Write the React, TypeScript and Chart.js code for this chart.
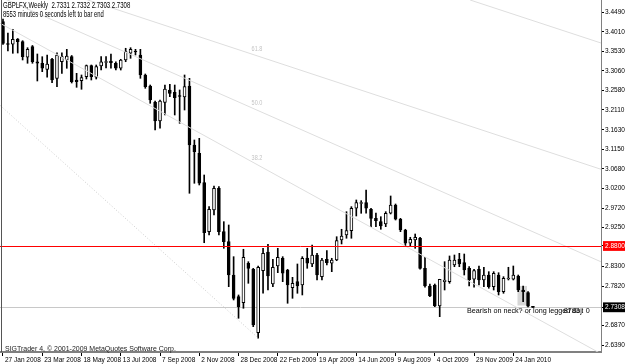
import React, { useEffect, useRef } from 'react';
import { Chart, registerables } from 'chart.js';

Chart.register(...registerables);

const FONT = "'Liberation Sans', Arial, sans-serif";

const symbolTitle = 'GBPLFX,Weekly';
const timerText = '8553 minutes 0 seconds left to bar end';
const copyrightText = 'SIGTrader 4, \u00A9 2001-2009 MetaQuotes Software Corp.';

// Weekly candles, 27 Jan 2008 .. 14 Feb 2010 (+ current bar)
const openP = [
  3.4259, 3.3728, 3.3709, 3.3838, 3.3772, 3.3393, 3.3651, 3.3285, 3.3247, 3.3100,
  3.3344, 3.2881, 3.3285, 3.3327, 3.3407, 3.2840, 3.2823, 3.2920, 3.3188, 3.2906,
  3.3181, 3.3266, 3.3302, 3.3247, 3.3125, 3.3327, 3.3490, 3.3546, 3.3449, 3.2962,
  3.2694, 3.2297, 3.1842, 3.2297, 3.2597, 3.2541, 3.2463, 3.2426, 3.2694, 3.1258,
  3.1056, 3.0341, 2.9148, 2.9676, 3.0204, 2.9148, 2.8905, 2.8094, 2.7566, 2.7420,
  2.8379, 2.8233, 2.6690, 2.8199, 2.8654, 2.7875, 2.8313, 2.8501, 2.8216, 2.7785,
  2.7931, 2.7851, 2.8508, 2.8362, 2.8581, 2.8053, 2.8476, 2.8379, 2.8459, 2.8946,
  2.9068, 2.9173, 2.9718, 2.9834, 2.9854, 2.9693, 2.9474, 2.9392, 2.9336, 2.9596,
  2.9798, 2.9450, 2.9190, 2.8866, 2.8946, 2.8988, 2.8257, 2.7827, 2.7851, 2.7340,
  2.7931, 2.7931, 2.8338, 2.8476, 2.8394, 2.8257, 2.7990, 2.8233, 2.7973, 2.8094,
  2.7810, 2.8094, 2.7688, 2.7997, 2.7990, 2.8070, 2.7729, 2.7664, 2.7331,
];
const highP = [
  3.4325, 3.3984, 3.4074, 3.3850, 3.3797, 3.3626, 3.3680, 3.3473, 3.3407, 3.3449,
  3.3368, 3.3504, 3.3504, 3.3587, 3.3436, 3.3003, 3.2962, 3.3205, 3.3205, 3.3205,
  3.3407, 3.3407, 3.3473, 3.3285, 3.3344, 3.3612, 3.3626, 3.3587, 3.3587, 3.2986,
  3.2718, 3.2329, 3.2353, 3.2718, 3.2735, 3.2718, 3.2597, 3.2962, 3.2881, 3.1380,
  3.1421, 3.0528, 2.9757, 3.0260, 3.0243, 2.9392, 2.9311, 2.8540, 2.7608, 2.8720,
  2.8418, 2.8257, 2.8313, 2.8744, 2.8841, 2.8476, 2.8744, 2.8540, 2.8233, 2.8038,
  2.8362, 2.8540, 2.8744, 2.8824, 2.8622, 2.8501, 2.8686, 2.8501, 2.9026, 2.9207,
  2.9635, 2.9757, 2.9920, 2.9903, 3.0163, 2.9718, 2.9603, 2.9513, 2.9635, 3.0017,
  2.9822, 2.9474, 2.9207, 2.9012, 2.9092, 2.9012, 2.8525, 2.7875, 2.7875, 2.7990,
  2.8418, 2.8557, 2.8581, 2.8622, 2.8605, 2.8296, 2.8233, 2.8313, 2.8282, 2.8175,
  2.8175, 2.8150, 2.8053, 2.8282, 2.8313, 2.8094, 2.7827, 2.7688, 2.7332,
];
const lowP = [
  3.3704, 3.3546, 3.3490, 3.3497, 3.3327, 3.3247, 3.3247, 3.2816, 3.3042, 3.2906,
  3.2774, 3.2677, 3.3003, 3.3125, 3.2767, 3.2662, 3.2614, 3.2864, 3.2840, 3.2864,
  3.3083, 3.3132, 3.3125, 3.3083, 3.3083, 3.3285, 3.3368, 3.3449, 3.2881, 3.2638,
  3.2273, 3.1623, 3.1665, 3.1988, 3.2434, 3.1988, 3.1786, 3.2110, 3.0083, 3.0326,
  3.0285, 2.8880, 2.9068, 2.9555, 2.9068, 2.8744, 2.7810, 2.7486, 2.7041, 2.7284,
  2.7892, 2.6836, 2.6554, 2.7649, 2.7729, 2.7810, 2.8150, 2.7931, 2.7406, 2.7527,
  2.7649, 2.7608, 2.8257, 2.8296, 2.7973, 2.7973, 2.8338, 2.8175, 2.8442, 2.8849,
  2.8988, 2.8988, 2.9530, 2.9596, 2.9596, 2.9270, 2.9270, 2.9207, 2.9270, 2.9579,
  2.9433, 2.9148, 2.8783, 2.8783, 2.8744, 2.8233, 2.7795, 2.7566, 2.7323, 2.7080,
  2.7729, 2.7892, 2.8296, 2.8296, 2.8094, 2.7827, 2.7795, 2.7851, 2.7810, 2.7771,
  2.7729, 2.7608, 2.7649, 2.7973, 2.7973, 2.7688, 2.7445, 2.7315, 2.7303,
];
const closeP = [
  3.3733, 3.3704, 3.3831, 3.3772, 3.3407, 3.3587, 3.3285, 3.3247, 3.3125, 3.3229,
  3.2840, 3.3449, 3.3407, 3.3424, 3.2799, 3.2799, 3.2896, 3.3188, 3.2920, 3.3164,
  3.3285, 3.3285, 3.3261, 3.3125, 3.3327, 3.3529, 3.3587, 3.3522, 3.2962, 3.2677,
  3.2353, 3.1842, 3.2329, 3.2621, 3.2516, 3.2409, 3.2439, 3.2677, 3.1258, 3.1095,
  3.0326, 2.9124, 2.9693, 3.0204, 2.9148, 2.8905, 2.8094, 2.7527, 2.7323, 2.8525,
  2.8257, 2.6878, 2.8282, 2.8622, 2.8070, 2.8282, 2.8525, 2.8136, 2.7851, 2.7892,
  2.7827, 2.8501, 2.8379, 2.8581, 2.8094, 2.8459, 2.8394, 2.8459, 2.8929, 2.9044,
  2.9173, 2.9718, 2.9854, 2.9854, 2.9718, 2.9474, 2.9416, 2.9287, 2.9596, 2.9798,
  2.9450, 2.9190, 2.8866, 2.8963, 2.9012, 2.8257, 2.7827, 2.7583, 2.7340, 2.7990,
  2.7973, 2.8459, 2.8459, 2.8362, 2.8216, 2.7973, 2.8199, 2.7973, 2.8094, 2.7810,
  2.8136, 2.7688, 2.8014, 2.8021, 2.8094, 2.7729, 2.7688, 2.7335, 2.7308,
];

const xTickIndex = [0, 8, 16, 24, 32, 40, 48, 56, 64, 72, 80, 88, 96, 104];
const xTickLabels = [
  '27 Jan 2008', '23 Mar 2008', '18 May 2008', '13 Jul 2008', '7 Sep 2008', '2 Nov 2008', '28 Dec 2008',
  '22 Feb 2009', '19 Apr 2009', '14 Jun 2009', '9 Aug 2009', '4 Oct 2009', '29 Nov 2009', '24 Jan 2010',
];
const yTickValues = [
  3.449, 3.401, 3.353, 3.306, 3.258, 3.211, 3.163, 3.115, 3.068, 3.02, 2.972, 2.925,
  2.88, 2.83, 2.782, 2.7308, 2.687, 2.639,
];
const xRange = [-0.611, 121.87];
const yRange = [2.622, 3.4787];

const resistanceLevel = 2.88;

// Fibonacci fan lines + other trend line: [barIndex1, price1, barIndex2, price2]
const fanLines: number[][] = [
  [-0.611, 3.5493, 121.87, 3.0667],
  [-0.611, 3.4865, 121.87, 2.8415],
  [-0.611, 3.4222, 121.87, 2.6178],
  [95.2, 3.4787, 121.87, 3.374],
];
const fanBaseLine = [-1, 3.2267, 52, 2.6561];
const fanLabels = ['61.8', '50.0', '38.2'];
const fanLabelIndex = 51.76;
const fanLabelPrice = [3.3597, 3.2268, 3.0942];

const boxIndex = [104.85, 106.79];
const boxPrice = [2.7827, 2.7352];

const noteText = 'Bearish on neck? or long legged doji';
const noteIndex = 94.56;
const notePrice = 2.723;
const noteText2 = '8783 : 0';
const noteIndex2 = 119.6;

function drawScaledText(ctx: CanvasRenderingContext2D, text: string, x: number, y: number, sx: number) {
  ctx.save();
  ctx.translate(x, y);
  ctx.scale(sx, 1);
  ctx.fillText(text, 0, 0);
  ctx.restore();
}

const overlayPlugin = {
  id: 'mtOverlay',
  beforeDatasetsDraw(chart: any) {
    const { ctx, chartArea: a } = chart;
    const xs = chart.scales.x;
    const ys = chart.scales.y;
    const px = (v: number) => xs.getPixelForValue(v);
    const py = (v: number) => ys.getPixelForValue(v);
    ctx.save();
    ctx.beginPath();
    ctx.rect(a.left, a.top, a.right - a.left, a.bottom - a.top);
    ctx.clip();
    ctx.fillStyle = '#d6d6d6';
    ctx.fillRect(px(boxIndex[0]), py(boxPrice[0]), px(boxIndex[1]) - px(boxIndex[0]), py(boxPrice[1]) - py(boxPrice[0]));
    const lastClose = closeP[closeP.length - 1];
    const yb = Math.round(py(lastClose)) + 0.5;
    ctx.strokeStyle = '#c8c8c8';
    ctx.lineWidth = 1;
    ctx.beginPath();
    ctx.moveTo(a.left, yb);
    ctx.lineTo(a.right, yb);
    ctx.stroke();
    ctx.restore();
  },
  afterDatasetsDraw(chart: any) {
    const { ctx, chartArea: a } = chart;
    const xs = chart.scales.x;
    const ys = chart.scales.y;
    const px = (v: number) => xs.getPixelForValue(v);
    const py = (v: number) => ys.getPixelForValue(v);
    ctx.save();
    ctx.beginPath();
    ctx.rect(a.left, a.top, a.right - a.left, a.bottom - a.top);
    ctx.clip();
    ctx.lineWidth = 1;
    ctx.strokeStyle = '#dedede';
    fanLines.forEach(([i1, p1, i2, p2]) => {
      ctx.beginPath();
      ctx.moveTo(px(i1), py(p1));
      ctx.lineTo(px(i2), py(p2));
      ctx.stroke();
    });
    ctx.setLineDash([1, 2]);
    ctx.strokeStyle = '#cccccc';
    ctx.beginPath();
    ctx.moveTo(px(fanBaseLine[0]), py(fanBaseLine[1]));
    ctx.lineTo(px(fanBaseLine[2]), py(fanBaseLine[3]));
    ctx.stroke();
    ctx.setLineDash([]);
    const yr = Math.round(py(resistanceLevel)) + 0.5;
    ctx.strokeStyle = '#ff0000';
    ctx.beginPath();
    ctx.moveTo(a.left, yr);
    ctx.lineTo(a.right, yr);
    ctx.stroke();
    ctx.restore();
  },
  afterDraw(chart: any) {
    const { ctx, chartArea: a } = chart;
    const xs = chart.scales.x;
    const ys = chart.scales.y;
    const px = (v: number) => xs.getPixelForValue(v);
    const py = (v: number) => ys.getPixelForValue(v);
    const n = closeP.length - 1;
    ctx.save();
    // left frame
    ctx.fillStyle = '#555555';
    ctx.fillRect(a.left + 1, a.top, 1, a.bottom - a.top);
    // fan level labels
    ctx.font = `6.5px ${FONT}`;
    ctx.fillStyle = '#c4c4c4';
    ctx.textAlign = 'center';
    ctx.textBaseline = 'middle';
    fanLabels.forEach((t, i) => drawScaledText(ctx, t, px(fanLabelIndex), py(fanLabelPrice[i]), 0.85));
    // header
    ctx.fillStyle = '#000000';
    ctx.textAlign = 'left';
    ctx.textBaseline = 'top';
    ctx.font = `9px ${FONT}`;
    const hdr = `${symbolTitle}  ${openP[n].toFixed(4)} ${highP[n].toFixed(4)} ${lowP[n].toFixed(4)} ${closeP[n].toFixed(4)}`;
    drawScaledText(ctx, hdr, a.left + 3, a.top + 1.5, 0.67);
    drawScaledText(ctx, timerText, a.left + 3, a.top + 10, 0.65);
    // annotation
    ctx.font = `8px ${FONT}`;
    ctx.textBaseline = 'middle';
    drawScaledText(ctx, noteText, px(noteIndex), py(notePrice), 0.9);
    ctx.textAlign = 'right';
    drawScaledText(ctx, noteText2, px(noteIndex2), py(notePrice), 0.9);
    // copyright
    ctx.textAlign = 'left';
    ctx.textBaseline = 'alphabetic';
    ctx.font = `7.5px ${FONT}`;
    ctx.fillStyle = '#222222';
    drawScaledText(ctx, copyrightText, a.left + 5, a.bottom - 1, 0.93);
    ctx.restore();
  },
};

export default function App() {
  const ref = useRef<HTMLCanvasElement>(null);
  useEffect(() => {
    const canvas = ref.current;
    if (!canvas) return;
    const n = closeP.length;
    const lastClose = closeP[n - 1];
    const bodyData = openP.map((o, i) => ({ x: i, y: [Math.min(o, closeP[i]), Math.max(o, closeP[i])] }));
    const wickData = highP.map((h, i) => ({ x: i, y: [lowP[i], h] }));
    const bodyFill = openP.map((o, i) => (closeP[i] >= o ? '#ffffff' : '#000000'));
    const isSpecial = (v: number) => v === resistanceLevel || v === lastClose;

    const chart = new Chart(canvas, {
      type: 'bar',
      data: {
        datasets: [
          {
            data: bodyData as any,
            backgroundColor: bodyFill,
            borderColor: '#000000',
            borderWidth: 1,
            borderSkipped: false,
            barThickness: 3,
            minBarLength: 1,
            grouped: false,
            order: 0,
          } as any,
          {
            data: wickData as any,
            backgroundColor: '#000000',
            borderWidth: 0,
            barThickness: 1,
            grouped: false,
            order: 1,
          } as any,
        ],
      },
      options: {
        responsive: false,
        animation: false,
        devicePixelRatio: 1,
        layout: { padding: 0 },
        plugins: { legend: { display: false }, tooltip: { enabled: false } },
        scales: {
          x: {
            type: 'linear',
            min: xRange[0],
            max: xRange[1],
            offset: false,
            bounds: 'data',
            grid: { display: true, drawOnChartArea: false, drawTicks: true, tickLength: 4, color: '#000000', offset: false },
            border: { display: true, color: '#808080', width: 2 },
            ticks: {
              autoSkip: false,
              maxRotation: 0,
              minRotation: 0,
              align: 'start',
              padding: 0,
              labelOffset: 2,
              color: '#000000',
              font: { family: FONT, size: 6.5 },
              callback: (v: any) => {
                const k = xTickIndex.indexOf(Number(v));
                return k >= 0 ? xTickLabels[k] : '';
              },
            },
            afterBuildTicks: (s: any) => {
              s.ticks = xTickIndex.map((v) => ({ value: v }));
            },
            afterFit: (s: any) => {
              s.height = 12;
              s.paddingLeft = 0;
              s.paddingRight = 0;
            },
          } as any,
          y: {
            type: 'linear',
            position: 'right',
            min: yRange[0],
            max: yRange[1],
            bounds: 'data',
            grid: { drawOnChartArea: false, drawTicks: true, tickLength: 3, color: '#000000' },
            border: { display: true, color: '#808080', width: 1 },
            ticks: {
              autoSkip: false,
              padding: 1,
              font: { family: FONT, size: 6.5 },
              color: (c: any) => (c.tick && isSpecial(c.tick.value) ? '#ffffff' : '#000000'),
              showLabelBackdrop: (c: any) => !!(c.tick && isSpecial(c.tick.value)),
              backdropColor: (c: any) => (c.tick && c.tick.value === resistanceLevel ? '#ff0000' : '#000000'),
              backdropPadding: { top: 1, bottom: 1, left: 2, right: 4 },
              callback: (v: any) => Number(v).toFixed(4),
            },
            afterBuildTicks: (s: any) => {
              s.ticks = yTickValues.map((v) => ({ value: v }));
            },
            afterFit: (s: any) => {
              s.width = 24;
              s.paddingTop = 0;
              s.paddingBottom = 0;
            },
          } as any,
        },
      },
      plugins: [overlayPlugin],
    });
    return () => chart.destroy();
  }, []);

  return (
    <div style={{ position: 'fixed', left: 0, top: 0, width: 625, height: 364, background: '#ffffff' }}>
      <canvas ref={ref} width={625} height={364} style={{ display: 'block', width: 625, height: 364 }} />
    </div>
  );
}
